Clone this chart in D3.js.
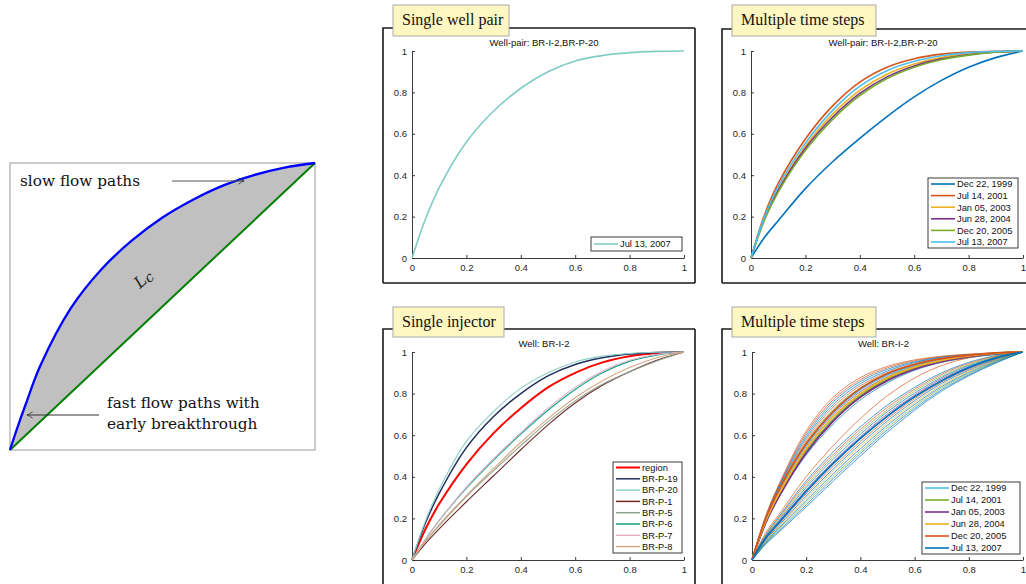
<!DOCTYPE html>
<html><head><meta charset="utf-8">
<script src="https://cdn.jsdelivr.net/npm/d3@7/dist/d3.min.js"></script>
<style>body{margin:0;background:#fff}svg{display:block}</style>
</head><body>
<script>
// ---------------- DATA ----------------
const diagramX = [0,0.02,0.05,0.1,0.2,0.3,0.4,0.5,0.6,0.7,0.8,0.9,1];
const diagramSlow = [0,0.065,0.155,0.295,0.495,0.63,0.73,0.81,0.872,0.922,0.958,0.984,1];
const diagramDiag = [0,1];

const grid = [0,0.05,0.1,0.2,0.3,0.4,0.5,0.6,0.7,0.8,0.9,1];
const tickValues = [0,0.2,0.4,0.6,0.8,1];
const tickLabels = ["0","0.2","0.4","0.6","0.8","1"];

// Panel 1: single well pair
const pairNames = ["Jul 13, 2007"];
const pairValues = [[0,0.19,0.34,0.56,0.71,0.82,0.90,0.952,0.978,0.992,0.998,1]];

// Panel 2: multiple time steps (well pair)
const dates = ["Dec 22, 1999","Jul 14, 2001","Jan 05, 2003","Jun 28, 2004","Dec 20, 2005","Jul 13, 2007"];
const pairTimeValues = [
  [0,0.10,0.18,0.335,0.465,0.578,0.683,0.778,0.858,0.922,0.968,1],
  [0,0.21,0.36,0.575,0.735,0.85,0.922,0.963,0.985,0.995,0.999,1],
  [0,0.195,0.335,0.54,0.695,0.81,0.888,0.937,0.968,0.986,0.996,1],
  [0,0.19,0.325,0.53,0.68,0.795,0.875,0.928,0.962,0.982,0.995,1],
  [0,0.185,0.318,0.52,0.67,0.785,0.867,0.922,0.958,0.98,0.994,1],
  [0,0.20,0.345,0.555,0.713,0.83,0.905,0.95,0.977,0.992,0.998,1]
];

// Panel 3: single injector
const injNames = ["region","BR-P-19","BR-P-20","BR-P-1","BR-P-5","BR-P-6","BR-P-7","BR-P-8"];
const injValues = [
  [0,0.15,0.27,0.46,0.61,0.73,0.83,0.90,0.95,0.98,0.995,1],
  [0,0.18,0.32,0.54,0.69,0.80,0.885,0.94,0.972,0.99,0.998,1],
  [0,0.19,0.34,0.57,0.715,0.825,0.90,0.952,0.98,0.993,0.999,1],
  [0,0.08,0.15,0.28,0.405,0.53,0.65,0.755,0.84,0.905,0.96,1],
  [0,0.09,0.165,0.305,0.43,0.55,0.665,0.765,0.845,0.905,0.957,1],
  [0,0.10,0.19,0.345,0.48,0.605,0.72,0.82,0.90,0.955,0.985,1],
  [0,0.10,0.19,0.35,0.487,0.612,0.73,0.83,0.908,0.96,0.988,1],
  [0,0.09,0.17,0.31,0.44,0.565,0.68,0.78,0.862,0.925,0.972,1]
];

// Panel 4: multiple time steps (injector) - highlighted curves
const injTimeValues = [
  [0,0.195,0.335,0.555,0.71,0.82,0.892,0.937,0.966,0.984,0.995,1],
  [0,0.18,0.31,0.52,0.675,0.79,0.868,0.92,0.955,0.978,0.993,1],
  [0,0.178,0.305,0.515,0.668,0.783,0.863,0.917,0.953,0.977,0.993,1],
  [0,0.185,0.32,0.535,0.69,0.80,0.877,0.927,0.96,0.981,0.994,1],
  [0,0.198,0.34,0.56,0.715,0.825,0.897,0.94,0.968,0.985,0.996,1],
  [0,0.105,0.18,0.33,0.465,0.585,0.692,0.785,0.862,0.925,0.972,1]
];
// Panel 4: well-pair curves at all time steps (thin)
const thinValues = [
  [0,0.21,0.365,0.62,0.783,0.877,0.931,0.962,0.98,0.99,0.996,1],
  [0,0.206,0.36,0.61,0.771,0.867,0.924,0.958,0.977,0.988,0.995,1],
  [0,0.203,0.355,0.599,0.76,0.858,0.917,0.953,0.975,0.987,0.995,1],
  [0,0.199,0.35,0.588,0.748,0.848,0.909,0.949,0.972,0.985,0.994,1],
  [0,0.196,0.345,0.578,0.736,0.838,0.902,0.944,0.969,0.984,0.993,1],
  [0,0.192,0.34,0.568,0.725,0.828,0.895,0.94,0.966,0.982,0.992,1],
  [0,0.188,0.335,0.557,0.713,0.819,0.888,0.935,0.964,0.981,0.992,1],
  [0,0.185,0.33,0.547,0.701,0.809,0.881,0.931,0.961,0.979,0.991,1],
  [0,0.181,0.325,0.536,0.689,0.799,0.873,0.926,0.958,0.977,0.99,1],
  [0,0.177,0.32,0.526,0.678,0.789,0.866,0.922,0.955,0.976,0.99,1],
  [0,0.174,0.315,0.515,0.666,0.78,0.859,0.917,0.953,0.974,0.989,1],
  [0,0.17,0.31,0.505,0.654,0.77,0.852,0.912,0.95,0.973,0.988,1],
  [0,0.13,0.22,0.40,0.55,0.68,0.79,0.875,0.935,0.972,0.992,1],
  [0,0.12,0.21,0.38,0.52,0.64,0.745,0.83,0.90,0.95,0.983,1],
  [0,0.116,0.204,0.37,0.508,0.628,0.734,0.821,0.893,0.945,0.98,1],
  [0,0.113,0.198,0.359,0.497,0.617,0.723,0.812,0.885,0.939,0.977,1],
  [0,0.109,0.191,0.349,0.485,0.605,0.713,0.802,0.878,0.934,0.974,1],
  [0,0.105,0.185,0.338,0.473,0.593,0.702,0.793,0.871,0.928,0.971,1],
  [0,0.101,0.179,0.328,0.462,0.582,0.691,0.784,0.863,0.923,0.968,1],
  [0,0.098,0.173,0.318,0.45,0.57,0.68,0.775,0.856,0.918,0.965,1],
  [0,0.094,0.166,0.307,0.438,0.558,0.669,0.766,0.849,0.912,0.962,1],
  [0,0.09,0.16,0.297,0.427,0.547,0.658,0.757,0.841,0.907,0.959,1],
  [0,0.086,0.154,0.286,0.415,0.535,0.648,0.748,0.834,0.901,0.956,1],
  [0,0.083,0.148,0.276,0.403,0.523,0.637,0.738,0.827,0.896,0.953,1],
  [0,0.079,0.141,0.265,0.392,0.512,0.626,0.729,0.819,0.89,0.95,1],
  [0,0.075,0.135,0.255,0.38,0.50,0.615,0.72,0.812,0.885,0.947,1]
];
const thinStep = [1,1,0,0,1,4,0,3,2,0,4,0, 1, 0,1,4,0,3,0,1,0,2,0,4,0,0];

// ---------------- STYLE ----------------
const matlab = ["#0072BD","#D95319","#EDB120","#7E2F8E","#77AC30","#4DBEEE"];
const timeColors = [matlab[0],matlab[1],matlab[2],matlab[3],matlab[4],matlab[5]];
const injTimeColors = [matlab[5],matlab[4],matlab[3],matlab[2],matlab[1],matlab[0]];
const injColors = ["#ff0000","#22305e","#8cd2c9","#6d2a2a","#8f9f8f","#12a383","#e2b0c8","#d3aa80"];
const pairColor = "#80cdc5";
const smooth = d3.curveCatmullRom.alpha(0.5);

const svg = d3.select("body").append("svg").attr("width",1026).attr("height",584);
const serif = "'DejaVu Serif', serif";
const serif2 = "'Liberation Serif', 'Times New Roman', serif";
const sans = "'Liberation Sans', Arial, sans-serif";

// ---------------- LEFT DIAGRAM ----------------
(function(){
  const x = d3.scaleLinear().domain([0,1]).range([10,315]);
  const y = d3.scaleLinear().domain([0,1]).range([450,163]);
  const pts = diagramX.map((v,i)=>({x:v,y:diagramSlow[i]}));
  const g = svg.append("g");
  g.append("rect").attr("x",10).attr("y",163).attr("width",305).attr("height",287)
    .attr("fill","#fff").attr("stroke","#a8a8a8").attr("stroke-width",1.2);
  g.append("path").datum(pts)
    .attr("d",d3.area().x(d=>x(d.x)).y0(d=>y(d.x)).y1(d=>y(d.y)).curve(smooth))
    .attr("fill","#c0c0c0");
  g.append("path").datum(diagramDiag)
    .attr("d",d3.line().x(d=>x(d)).y(d=>y(d)))
    .attr("stroke","#008000").attr("stroke-width",2).attr("fill","none");
  g.append("path").datum(pts)
    .attr("d",d3.line().x(d=>x(d.x)).y(d=>y(d.y)).curve(smooth))
    .attr("stroke","#0000ff").attr("stroke-width",2.3).attr("fill","none");
  const defs = svg.append("defs");
  defs.append("marker").attr("id","arr").attr("viewBox","0 0 10 10").attr("refX",9).attr("refY",5)
    .attr("markerWidth",8).attr("markerHeight",8).attr("orient","auto").attr("markerUnits","userSpaceOnUse")
    .append("path").attr("d","M2,1 Q6,4 9,5 Q6,6 2,9").attr("fill","none").attr("stroke","#333").attr("stroke-width",1);
  g.append("line").attr("x1",172).attr("y1",181).attr("x2",244).attr("y2",181)
    .attr("stroke","#555").attr("stroke-width",1).attr("marker-end","url(#arr)");
  g.append("line").attr("x1",99).attr("y1",415).attr("x2",27).attr("y2",415)
    .attr("stroke","#333").attr("stroke-width",1).attr("marker-end","url(#arr)");
  const tf = s=>s.attr("font-family",serif).attr("font-size",15.3).attr("fill","#111");
  tf(g.append("text").attr("x",20).attr("y",186).text("slow flow paths"));
  tf(g.append("text").attr("x",107).attr("y",408).text("fast flow paths with"));
  tf(g.append("text").attr("x",107).attr("y",429).text("early breakthrough"));
  const lc = g.append("text").attr("transform","translate(140,289) rotate(-42)")
    .attr("font-family",serif).attr("font-size",16).attr("font-style","italic").attr("fill","#222");
  lc.append("tspan").text("L");
  lc.append("tspan").attr("dy",2).attr("font-size",14).text("c");
})();

// ---------------- PANELS ----------------
function panel(cfg){
  const g = svg.append("g");
  const f = cfg.frame;
  g.append("path").attr("d",`M${f[2]},${f[1]} L${f[0]},${f[1]} L${f[0]},${f[3]} M${f[2]},${f[1]} L${f[2]},${f[3]} M${f[0]},${f[3]} L${f[2]},${f[3]}`)
    .attr("fill","none").attr("stroke","#1a1a1a").attr("stroke-width",1.6);
  const x = d3.scaleLinear().domain([0,1]).range([cfg.ax[0],cfg.ax[1]]);
  const y = d3.scaleLinear().domain([0,1]).range([cfg.ax[3],cfg.ax[2]]);
  const xa = g.append("g").attr("transform",`translate(0,${cfg.ax[3]})`)
    .call(d3.axisBottom(x).tickValues(tickValues).tickFormat((d,i)=>tickLabels[i]).tickSizeInner(-3).tickSizeOuter(0).tickPadding(6));
  const ya = g.append("g").attr("transform",`translate(${cfg.ax[0]},0)`)
    .call(d3.axisLeft(y).tickValues(tickValues).tickFormat((d,i)=>tickLabels[i]).tickSizeInner(-3).tickSizeOuter(0).tickPadding(5));
  [xa,ya].forEach(a=>{
    a.selectAll("path,line").attr("stroke","#262626").attr("stroke-width",0.9);
    a.selectAll("text").attr("font-family",sans).attr("font-size",9.5).attr("fill","#262626");
  });
  g.append("text").attr("x",(cfg.ax[0]+cfg.ax[1])/2-4).attr("y",cfg.ax[2]-5).attr("text-anchor","middle")
    .attr("font-family",sans).attr("font-size",9.5).attr("fill","#111").text(cfg.title);
  const line = d3.line().x((d,i)=>x(grid[i])).y(d=>y(d)).curve(smooth);
  cfg.series.forEach(s=>{
    g.append("path").datum(s.values).attr("d",line).attr("fill","none")
      .attr("stroke",s.color).attr("stroke-width",s.width).attr("stroke-opacity",s.opacity||1);
  });
  const L = cfg.legend;
  g.append("rect").attr("x",L.x).attr("y",L.y).attr("width",L.w).attr("height",L.h)
    .attr("fill","#fff").attr("stroke","#262626").attr("stroke-width",0.9);
  L.items.forEach((it,i)=>{
    const cy = L.y + L.first + i*L.step;
    g.append("line").attr("x1",L.x+3).attr("x2",L.x+27).attr("y1",cy).attr("y2",cy)
      .attr("stroke",it.color).attr("stroke-width",it.width);
    g.append("text").attr("x",L.x+29).attr("y",cy+3.3).attr("font-family",sans).attr("font-size",9.3)
      .attr("fill","#111").text(it.name);
  });
  const b = cfg.box;
  g.append("rect").attr("x",b[0]).attr("y",b[1]).attr("width",b[2]).attr("height",b[3])
    .attr("fill","#fff7c2").attr("stroke","#aaa").attr("stroke-width",1);
  g.append("text").attr("x",b[0]+9).attr("y",b[1]+20).attr("font-family",serif2).attr("font-size",16)
    .attr("fill","#111").text(cfg.label);
}

panel({
  frame:[383,28,695,283], ax:[412,684,51,258], box:[393,5,116,31], label:"Single well pair",
  title:"Well-pair: BR-I-2,BR-P-20",
  series: pairValues.map((v,i)=>({values:v,color:pairColor,width:1.6})),
  legend:{x:591,y:237,w:91,h:14,first:7,step:11.5,items:pairNames.map(n=>({name:n,color:pairColor,width:1.6}))}
});

panel({
  frame:[722,29,1040,283], ax:[751,1023,51,258], box:[732,5,144,31], label:"Multiple time steps",
  title:"Well-pair: BR-I-2,BR-P-20",
  series: pairTimeValues.map((v,i)=>({values:v,color:timeColors[i],width:1.6})),
  legend:{x:928,y:178,w:90,h:70,first:6,step:11.6,items:dates.map((n,i)=>({name:n,color:timeColors[i],width:1.6}))}
});

panel({
  frame:[383,329,695,600], ax:[412,684,352,560], box:[393,307,111,30], label:"Single injector",
  title:"Well: BR-I-2",
  series: injValues.map((v,i)=>({values:v,color:injColors[i],width:i===0?2:(i===1?1.5:1.1)})),
  legend:{x:613,y:462,w:69,h:91,first:5.5,step:11.3,items:injNames.map((n,i)=>({name:n,color:injColors[i],width:i===0?2:1.5}))}
});

panel({
  frame:[722,329,1040,600], ax:[752,1023,352,560], box:[732,307,144,30], label:"Multiple time steps",
  title:"Well: BR-I-2",
  series: thinValues.map((v,i)=>({values:v,color:matlab[thinStep[i]],width:0.95,opacity:0.72}))
    .concat(injTimeValues.map((v,i)=>({values:v,color:injTimeColors[i],width:1.7}))),
  legend:{x:922,y:482,w:98,h:72,first:6,step:12,items:dates.map((n,i)=>({name:n,color:injTimeColors[i],width:1.6}))}
});
</script>
</body></html>
